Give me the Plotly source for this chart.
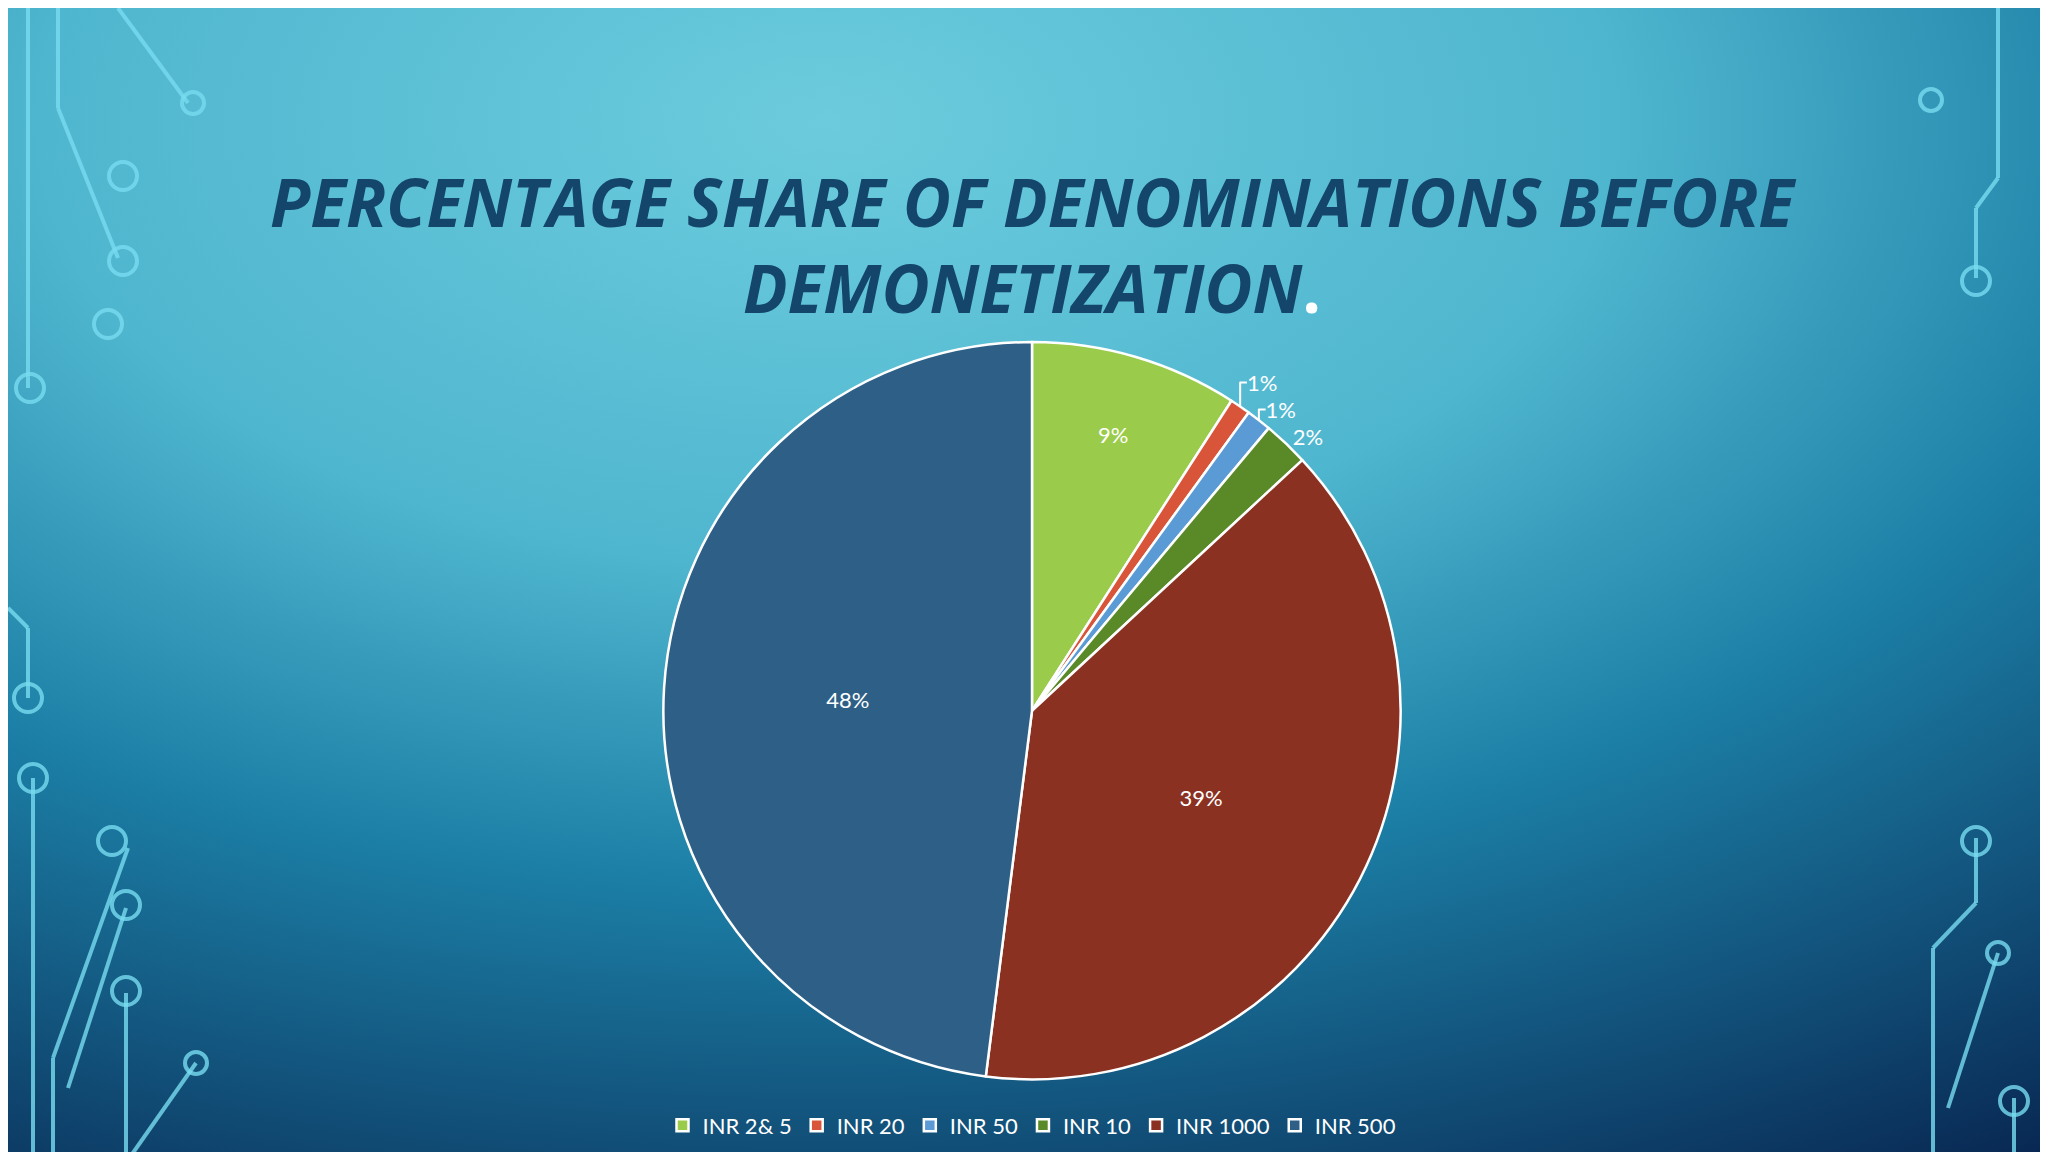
import base64
import plotly.graph_objects as go

labels = ["INR 2& 5", "INR 20", "INR 50", "INR 10", "INR 1000", "INR 500"]
values = [9.1, 0.9, 1.1, 2.0, 38.9, 48.0]
colors = ["#9bcb4a", "#d9553a", "#5b9bd5", "#5a8a28", "#8a3121", "#2e6087"]
positions = ["inside", "outside", "outside", "outside", "inside", "inside"]

# background gradient as an svg image
svg = """<svg xmlns='http://www.w3.org/2000/svg' width='2048' height='1152'>
<defs><radialGradient id='g' cx='0.4' cy='0.1' r='1.1'>
<stop offset='0' stop-color='#6cccdd'/><stop offset='0.35' stop-color='#4fb6cf'/>
<stop offset='0.6' stop-color='#1c7fa6'/><stop offset='1' stop-color='#07224d'/>
</radialGradient></defs><rect width='2048' height='1152' fill='url(#g)'/></svg>"""
bg = "data:image/svg+xml;base64," + base64.b64encode(svg.encode()).decode()

fig = go.Figure(go.Pie(
    labels=labels, values=values, sort=False, direction="clockwise", rotation=0,
    marker=dict(colors=colors, line=dict(color="white", width=2.5)),
    textinfo="percent", texttemplate="%{percent:.0%}", textposition=positions,
    insidetextorientation="horizontal",
    textfont=dict(color="white", size=22, family="Lato"),
    domain=dict(x=[0.3, 0.7], y=[0.07, 0.71]),
))

# simple circuit decorations
deco = []
lc = "rgba(120,220,240,0.8)"
for x0, y0, x1, y1 in [(20, 0, 20, 380), (50, 0, 50, 100), (50, 100, 110, 250), (110, 0, 180, 95),
                       (0, 600, 20, 620), (20, 620, 20, 690), (25, 770, 25, 1152), (120, 840, 45, 1050),
                       (45, 1050, 45, 1152), (118, 900, 60, 1080), (118, 985, 118, 1152), (188, 1055, 120, 1152),
                       (1990, 0, 1990, 170), (1990, 170, 1968, 200), (1968, 200, 1968, 270),
                       (1968, 830, 1968, 895), (1968, 895, 1925, 940), (1925, 940, 1925, 1152),
                       (1990, 945, 1940, 1100), (2006, 1090, 2006, 1152)]:
    deco.append(dict(type="line", xref="paper", yref="paper", x0=x0/2048, x1=x1/2048,
                     y0=1-y0/1152, y1=1-y1/1152, line=dict(color=lc, width=4)))
for cx, cy, r in [(185, 95, 11), (115, 168, 14), (115, 253, 14), (100, 316, 14), (22, 380, 14),
                  (20, 690, 14), (25, 770, 14), (104, 833, 14), (118, 897, 14), (118, 983, 14), (188, 1055, 11),
                  (1923, 92, 11), (1968, 273, 14), (1968, 833, 14), (1990, 945, 11), (2006, 1093, 14)]:
    deco.append(dict(type="circle", xref="paper", yref="paper", x0=(cx-r)/2048, x1=(cx+r)/2048,
                     y0=1-(cy-r)/1152, y1=1-(cy+r)/1152, line=dict(color=lc, width=4)))

fig.update_layout(
    width=2048, height=1152, margin=dict(l=0, r=0, t=0, b=0),
    paper_bgcolor="#1f7fa6", plot_bgcolor="rgba(0,0,0,0)",
    images=[dict(source=bg, xref="paper", yref="paper", x=0, y=1, sizex=1, sizey=1,
                 sizing="stretch", layer="below")],
    shapes=deco,
    title=dict(text="<b><i>PERCENTAGE SHARE OF DENOMINATIONS BEFORE<br>DEMONETIZATION</i></b><span style='color:white'><b>.</b></span>",
               x=0.5, xanchor="center", y=0.81, yanchor="middle",
               font=dict(family="Open Sans", size=66, color="#14456b")),
    legend=dict(orientation="h", x=0.5, xanchor="center", y=0.03, yanchor="middle",
                font=dict(family="Lato", size=22, color="white"), bgcolor="rgba(0,0,0,0)",
                traceorder="normal"),
)

fig.write_html("out.html")
